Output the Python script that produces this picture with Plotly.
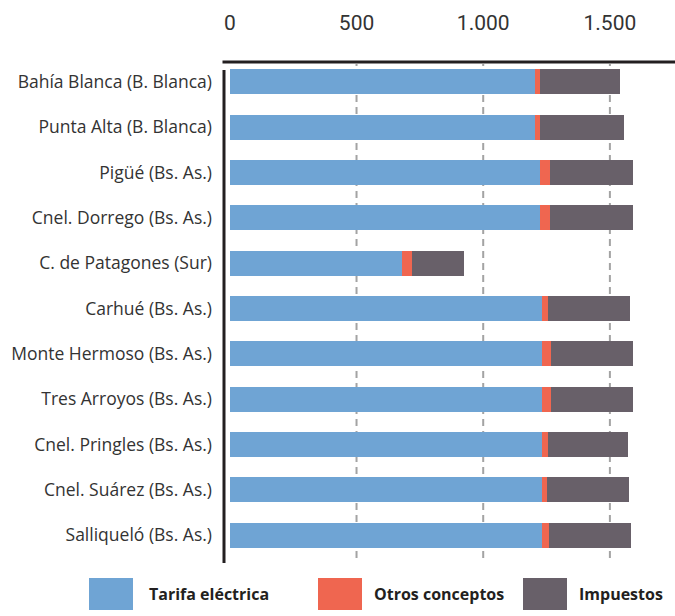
import plotly.graph_objects as go

# Monthly bill breakdown by locality (pesos)
localidades = [
    "Bahía Blanca (B. Blanca)",
    "Punta Alta (B. Blanca)",
    "Pigüé (Bs. As.)",
    "Cnel. Dorrego (Bs. As.)",
    "C. de Patagones (Sur)",
    "Carhué (Bs. As.)",
    "Monte Hermoso (Bs. As.)",
    "Tres Arroyos (Bs. As.)",
    "Cnel. Pringles (Bs. As.)",
    "Cnel. Suárez (Bs. As.)",
    "Salliqueló (Bs. As.)",
]
tarifa_electrica = [1204, 1205, 1224, 1224, 679, 1232, 1232, 1232, 1232, 1232, 1232]
otros_conceptos = [20, 19, 39, 39, 39, 23, 35, 35, 23, 19, 27]
impuestos = [316, 331, 328, 328, 206, 324, 324, 324, 316, 324, 324]

series_names = ["Tarifa eléctrica", "Otros conceptos", "Impuestos"]
series_values = [tarifa_electrica, otros_conceptos, impuestos]
series_colors = ["#6fa4d4", "#ef6650", "#686069"]

tick_vals = [0, 500, 1000, 1500]
tick_text = ["0", "500", "1.000", "1.500"]

W, H = 675, 616
M_L, M_R, M_T, M_B = 222, 0, 59, 58
PW, PH = W - M_L - M_R, H - M_T - M_B


def px_x(x):
    return (x - M_L) / PW


def px_y(y):
    return (H - M_B - y) / PH


fig = go.Figure()
for name, vals, color in zip(series_names, series_values, series_colors):
    fig.add_trace(go.Bar(
        y=localidades, x=vals, name=name, orientation="h",
        marker=dict(color=color, line=dict(width=0)),
        showlegend=False,
    ))

shapes = []
# dashed vertical guides (none at zero)
for v in tick_vals[1:]:
    shapes.append(dict(type="line", xref="x", yref="paper", x0=v, x1=v, y0=0, y1=0.99,
                       line=dict(color="#a3a3a3", width=2, dash="7px,5px"), layer="below"))
# heavy frame lines
shapes.append(dict(type="line", xref="paper", yref="paper", x0=px_x(222.5), x1=1,
                   y0=px_y(62), y1=px_y(62), line=dict(color="#231f20", width=3)))
shapes.append(dict(type="line", xref="paper", yref="paper", x0=px_x(224), x1=px_x(224),
                   y0=px_y(70), y1=px_y(563), line=dict(color="#231f20", width=3)))

# legend row
annotations = []
legend_box_x = [89, 318, 523]
legend_text_x = [147, 372, 577]
for bx, tx, name, color in zip(legend_box_x, legend_text_x, series_names, series_colors):
    shapes.append(dict(type="rect", xref="paper", yref="paper",
                       x0=px_x(bx), x1=px_x(bx + 44), y0=px_y(578), y1=px_y(610),
                       fillcolor=color, line=dict(width=0)))
    annotations.append(dict(xref="paper", yref="paper", x=px_x(tx), y=px_y(594),
                            xanchor="left", yanchor="middle", showarrow=False,
                            text="<b>" + name + "</b>",
                            font=dict(family="Open Sans", size=16, color="#231f20")))

fig.update_layout(
    width=W, height=H,
    margin=dict(l=M_L, r=M_R, t=M_T, b=M_B),
    barmode="stack", bargap=0.45,
    plot_bgcolor="white", paper_bgcolor="white",
    shapes=shapes, annotations=annotations,
    xaxis=dict(side="top", range=[-31, 1757], tickvals=tick_vals, ticktext=tick_text,
               showgrid=False, zeroline=False, showline=False, ticks="",
               ticklabelstandoff=24,
               tickfont=dict(family="Roboto", size=21, color="#333333")),
    yaxis=dict(categoryorder="array", categoryarray=localidades, autorange="reversed",
               showgrid=False, zeroline=False, showline=False, ticks="",
               ticklabelstandoff=9,
               tickfont=dict(family="Open Sans", size=17.5, color="#333333")),
)

fig.write_html("out.html")
